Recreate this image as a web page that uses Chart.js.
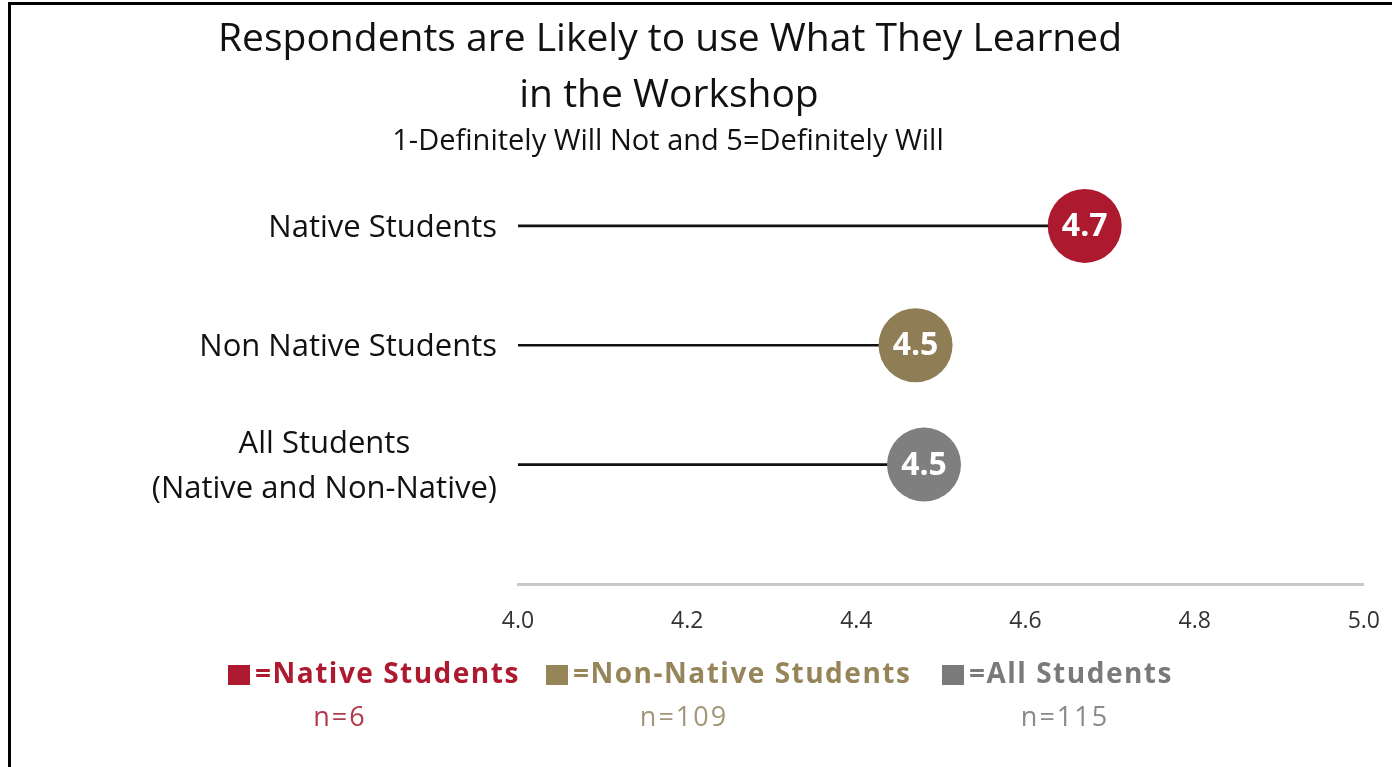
<!DOCTYPE html>
<html>
<head>
<meta charset="utf-8">
<script src="https://cdn.jsdelivr.net/npm/chart.js@4/dist/chart.umd.min.js"></script>
<style>
  html, body { margin: 0; padding: 0; background: #fff; overflow: hidden; }
  #wrap { position: relative; width: 1392px; height: 767px; overflow: hidden; }
  #c { position: absolute; left: 0; top: 0; }
</style>
</head>
<body>
<div id="wrap"><canvas id="c" width="1403" height="767"></canvas></div>
<script>
// ---- data ----
const categories = ["Native Students", "Non Native Students", ["All Students", "(Native and Non-Native)"]];
const meanScores = [4.67, 4.47, 4.48];
const pointColors = ["#AD1A2F", "#8E7D55", "#7F7F7F"];
const legendLabels = ["=Native Students", "=Non-Native Students", "=All Students"];
const legendColors = ["#AD1A2F", "#958559", "#7A7A7A"];
const nLabels = ["n=6", "n=109", "n=115"];
const nColors = ["#B23A4C", "#A3977A", "#8A8A8A"];
const titleLines = ["Respondents are Likely to use What They Learned", "in the Workshop"];
const subtitleText = "1-Definitely Will Not and 5=Definitely Will";
const xTicks = [4.0, 4.2, 4.4, 4.6, 4.8, 5.0];

const FONT = "'Open Sans', 'Noto Sans', sans-serif";

const rowIdx = categories.map((_, i) => i);

const decorPlugin = {
  id: 'decor',
  beforeDraw(chart) {
    const ctx = chart.ctx;
    ctx.save();
    ctx.fillStyle = '#000';
    ctx.fillRect(8, 2, 1400, 3);
    ctx.fillRect(8, 2, 3, 765);
    // title
    ctx.fillStyle = '#111';
    ctx.textAlign = 'center';
    ctx.textBaseline = 'middle';
    ctx.font = "39px " + FONT;
    ctx.fillText(titleLines[0], 670, 40);
    ctx.fillText(titleLines[1], 669, 96);
    ctx.font = "29px " + FONT;
    ctx.fillText(subtitleText, 668, 142);
    // category labels
    const ys = chart.scales.y;
    const right = chart.chartArea.left - 21;
    ctx.font = "31px " + FONT;
    ctx.fillStyle = '#111';
    categories.forEach((c, i) => {
      const py = ys.getPixelForValue(i);
      const lines = Array.isArray(c) ? c : [c];
      const lh = 45;
      const maxW = Math.max(...lines.map(l => ctx.measureText(l).width));
      const cx = right - maxW / 2;
      lines.forEach((l, k) => {
        ctx.textAlign = 'center';
        ctx.fillText(l, cx, py + (k - (lines.length - 1) / 2) * lh + 2);
      });
    });
    // legend
    const starts = [228, 546, 942];
    const nCenters = [339, 683, 1064];
    legendLabels.forEach((lab, i) => {
      ctx.fillStyle = legendColors[i];
      ctx.fillRect(starts[i], 665, 22, 20);
      ctx.font = "bold 28px " + FONT;
      ctx.letterSpacing = "1.5px";
      ctx.textAlign = 'left';
      ctx.fillText(lab, starts[i] + 27, 675);
      ctx.font = "27px " + FONT;
      ctx.letterSpacing = "2px";
      ctx.fillStyle = nColors[i];
      ctx.textAlign = 'center';
      ctx.fillText(nLabels[i], nCenters[i] + 1, 718);
      ctx.letterSpacing = "0px";
    });
    ctx.restore();
  },
  afterDatasetsDraw(chart) {
    const ctx = chart.ctx;
    const meta = chart.getDatasetMeta(1);
    ctx.save();
    ctx.fillStyle = '#fff';
    ctx.font = "bold 32px " + FONT;
    ctx.textAlign = 'center';
    ctx.textBaseline = 'middle';
    meta.data.forEach((pt, i) => {
      ctx.fillText(meanScores[i].toFixed(1), pt.x, pt.y + 1);
    });
    ctx.restore();
  }
};

new Chart(document.getElementById('c'), {
  type: 'bar',
  data: {
    datasets: [
      {
        type: 'bar',
        indexAxis: 'y',
        data: meanScores.map((v, i) => ({ x: v, y: rowIdx[i] })),
        backgroundColor: '#111',
        barThickness: 2,
        order: 2
      },
      {
        type: 'bubble',
        data: meanScores.map((v, i) => ({ x: v, y: rowIdx[i] })),
        backgroundColor: pointColors,
        borderColor: pointColors,
        radius: 37,
        hoverRadius: 0,
        borderWidth: 0,
        hoverBorderWidth: 0,
        order: 1,
        clip: false
      }
    ]
  },
  options: {
    responsive: false,
    animation: false,
    events: [],
    layout: { autoPadding: false, padding: { left: 518, right: 28, top: 160, bottom: 109 } },
    plugins: { legend: { display: false }, tooltip: { enabled: false }, title: { display: false } },
    scales: {
      x: {
        type: 'linear',
        offset: false,
        min: 4.0,
        max: 5.0,
        afterBuildTicks: (s) => { s.ticks = xTicks.map(v => ({ value: v })); },
        ticks: {
          callback: (v) => Number(v).toFixed(1),
          font: { family: FONT, size: 23 },
          color: '#333',
          padding: 23,
          maxRotation: 0
        },
        grid: { display: false, drawTicks: false, offset: false },
        border: { display: true, color: '#C8C8C8', width: 3 }
      },
      y: {
        type: 'linear',
        offset: false,
        reverse: true,
        min: -0.552,
        max: 3.004,
        display: false
      }
    }
  },
  plugins: [decorPlugin]
});
</script>
</body>
</html>
